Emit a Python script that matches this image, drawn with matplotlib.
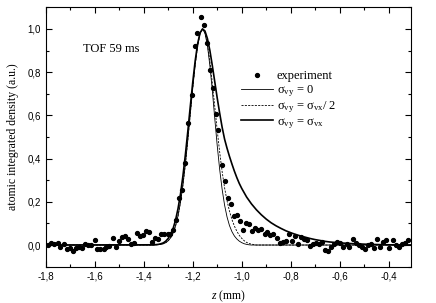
import numpy as np
import matplotlib
matplotlib.use("Agg")
import matplotlib.pyplot as plt
from matplotlib.ticker import MultipleLocator, FuncFormatter

plt.rcParams['mathtext.fontset'] = 'custom'
plt.rcParams['mathtext.rm'] = 'Liberation Serif'
plt.rcParams['mathtext.it'] = 'Liberation Serif:italic'

# experimental profile, TOF 59 ms
exp_z = [-1.792, -1.778, -1.766, -1.752, -1.740, -1.726, -1.714, -1.700, -1.689, -1.676,
         -1.663, -1.651, -1.639, -1.628, -1.616, -1.600, -1.589, -1.578, -1.564, -1.553,
         -1.541, -1.527, -1.514, -1.503, -1.490, -1.478, -1.464, -1.452, -1.438, -1.428,
         -1.415, -1.404, -1.391, -1.379, -1.366, -1.353, -1.342, -1.328, -1.316, -1.303,
         -1.291, -1.279, -1.267, -1.255, -1.242, -1.230, -1.218, -1.204, -1.192, -1.181,
         -1.167, -1.153, -1.143, -1.129, -1.118, -1.105, -1.095, -1.080, -1.068, -1.056,
         -1.044, -1.033, -1.019, -1.007, -0.995, -0.983, -0.969, -0.957, -0.944, -0.932,
         -0.920, -0.906, -0.895, -0.883, -0.871, -0.857, -0.845, -0.833, -0.820, -0.808,
         -0.796, -0.784, -0.771, -0.758, -0.746, -0.734, -0.721, -0.709, -0.697, -0.685,
         -0.672, -0.659, -0.646, -0.634, -0.622, -0.609, -0.597, -0.585, -0.571, -0.560,
         -0.546, -0.534, -0.522, -0.509, -0.497, -0.485, -0.473, -0.459, -0.447, -0.434,
         -0.422, -0.410, -0.397, -0.384, -0.372, -0.358, -0.346, -0.333, -0.320]
exp_n = [0.000, 0.011, 0.005, 0.010, -0.010, 0.003, -0.017, -0.012, -0.026, -0.012,
         -0.008, -0.015, 0.003, 0.000, 0.000, 0.025, -0.020, -0.020, -0.017, -0.008,
         -0.006, 0.031, -0.009, 0.018, 0.037, 0.040, 0.026, 0.006, 0.008, 0.054,
         0.040, 0.046, 0.066, 0.062, 0.014, 0.031, 0.029, 0.049, 0.050, 0.050,
         0.049, 0.069, 0.118, 0.219, 0.255, 0.378, 0.566, 0.694, 0.921, 0.979,
         1.056, 1.019, 0.935, 0.808, 0.725, 0.606, 0.531, 0.372, 0.295, 0.219,
         0.189, 0.136, 0.139, 0.110, 0.071, 0.100, 0.097, 0.065, 0.079, 0.069,
         0.076, 0.049, 0.060, 0.046, 0.052, 0.032, 0.009, 0.012, 0.019, 0.052,
         0.019, 0.043, 0.003, 0.035, 0.029, 0.023, -0.003, 0.003, 0.008, 0.003,
         0.012, -0.022, -0.029, -0.009, 0.003, 0.014, 0.008, -0.008, 0.003, -0.008,
         0.029, 0.008, -0.002, -0.008, -0.017, 0.000, 0.005, -0.014, 0.026, -0.011,
         0.014, 0.023, -0.012, 0.023, 0.002, -0.011, 0.006, 0.009, 0.023]

# model curves
fit_z_left = [-1.80, -1.36, -1.35, -1.34, -1.33, -1.32, -1.31, -1.30, -1.29, -1.28,
              -1.27, -1.26, -1.25, -1.24, -1.23, -1.22, -1.21, -1.20, -1.19, -1.18,
              -1.17, -1.16]
thin_left = [0.0, 0.0, 0.001, 0.002, 0.003, 0.006, 0.011, 0.020, 0.034, 0.056,
             0.089, 0.135, 0.198, 0.278, 0.375, 0.487, 0.607, 0.726, 0.835, 0.923,
             0.980, 1.000]
thick_left = [0.0, 0.001, 0.002, 0.003, 0.006, 0.010, 0.018, 0.031, 0.049, 0.077,
              0.116, 0.169, 0.236, 0.320, 0.418, 0.527, 0.641, 0.752, 0.852, 0.931,
              0.982, 1.000]

thin_z_right = [-1.15, -1.14, -1.13, -1.12, -1.11, -1.10, -1.09, -1.08, -1.07, -1.06,
                -1.05, -1.04, -1.03, -1.02, -1.01, -1.00, -0.99, -0.98, -0.97, -0.96,
                -0.31]
thin_right = [0.980, 0.923, 0.830, 0.715, 0.585, 0.460, 0.350, 0.258, 0.185, 0.130,
              0.090, 0.062, 0.042, 0.028, 0.018, 0.011, 0.006, 0.003, 0.001, 0.0,
              0.0]

half_z_right = [-1.15, -1.14, -1.13, -1.12, -1.11, -1.10, -1.09, -1.08, -1.07, -1.06,
                -1.05, -1.04, -1.03, -1.02, -1.01, -1.00, -0.99, -0.98, -0.97, -0.96,
                -0.95, -0.94, -0.31]
half_right = [0.982, 0.930, 0.850, 0.750, 0.640, 0.530, 0.430, 0.340, 0.265, 0.205,
              0.157, 0.118, 0.088, 0.064, 0.045, 0.031, 0.020, 0.012, 0.007, 0.004,
              0.002, 0.0, 0.0]

thick_z_right = [-1.15, -1.14, -1.13, -1.12, -1.11, -1.10, -1.09, -1.08, -1.07, -1.06,
                 -1.05, -1.04, -1.03, -1.02, -1.01, -1.00, -0.98, -0.96, -0.94, -0.92,
                 -0.90, -0.88, -0.86, -0.84, -0.82, -0.80, -0.78, -0.76, -0.74, -0.72,
                 -0.70, -0.68, -0.66, -0.64, -0.62, -0.60, -0.56, -0.52, -0.48, -0.44,
                 -0.40, -0.31]
thick_right = [0.990, 0.955, 0.900, 0.830, 0.755, 0.680, 0.610, 0.545, 0.490, 0.448,
               0.410, 0.375, 0.342, 0.312, 0.285, 0.262, 0.222, 0.190, 0.163, 0.140,
               0.120, 0.103, 0.089, 0.077, 0.066, 0.057, 0.049, 0.042, 0.036, 0.030,
               0.025, 0.021, 0.017, 0.014, 0.012, 0.010, 0.007, 0.005, 0.003, 0.002,
               0.001, 0.0]

serif = 'Liberation Serif'
sans = 'Liberation Sans'

fig = plt.figure(figsize=(4.36, 3.03), dpi=100)
ax = fig.add_axes([0.105, 0.12, 0.837, 0.856])

ax.plot(fit_z_left + thin_z_right, thin_left + thin_right, color='black', lw=0.6,
        label=r'σ$_{\mathrm{vy}}$ = 0')
ax.plot(fit_z_left + half_z_right, thin_left + half_right, color='black', lw=0.6,
        linestyle=(0, (2.5, 1.5)), label=r'σ$_{\mathrm{vy}}$ = σ$_{\mathrm{vx}}$/ 2')
ax.plot(fit_z_left + thick_z_right, thick_left + thick_right, color='black', lw=1.2,
        label=r'σ$_{\mathrm{vy}}$ = σ$_{\mathrm{vx}}$')
ax.plot(exp_z, exp_n, 'o', color='black', ms=2.8, label='experiment')

ax.set_xlim(-1.8, -0.31)
ax.set_ylim(-0.1, 1.1)
ax.xaxis.set_major_locator(MultipleLocator(0.2))
ax.xaxis.set_minor_locator(MultipleLocator(0.1))
ax.yaxis.set_major_locator(MultipleLocator(0.2))
ax.yaxis.set_minor_locator(MultipleLocator(0.1))
comma = FuncFormatter(lambda v, p: f'{v:.1f}'.replace('.', ',').replace('-0,0', '0,0'))
ax.xaxis.set_major_formatter(comma)
ax.yaxis.set_major_formatter(comma)
ax.tick_params(which='both', direction='in', top=True, right=True, width=0.8)
ax.tick_params(which='major', length=4, labelsize=7)
ax.tick_params(which='minor', length=2.5)
for lbl in ax.get_xticklabels() + ax.get_yticklabels():
    lbl.set_fontfamily(sans)

ax.set_xlabel('$z$ (mm)', fontsize=8.5, fontfamily=serif, labelpad=5)
ax.set_ylabel('atomic integrated density (a.u.)', fontsize=8.5, fontfamily=serif, labelpad=6)

ax.text(0.103, 0.84, 'TOF 59 ms', transform=ax.transAxes, fontsize=9, fontfamily=serif,
        va='center', ha='left')

handles, labels = ax.get_legend_handles_labels()
order = [3, 0, 1, 2]
leg = ax.legend([handles[i] for i in order], [labels[i] for i in order],
                loc='upper left', bbox_to_anchor=(0.51, 0.79), frameon=False,
                prop={'family': serif, 'size': 9}, handlelength=2.6, handletextpad=0.3,
                labelspacing=0.05, borderpad=0.2)

fig.savefig('out.png', dpi=100)
